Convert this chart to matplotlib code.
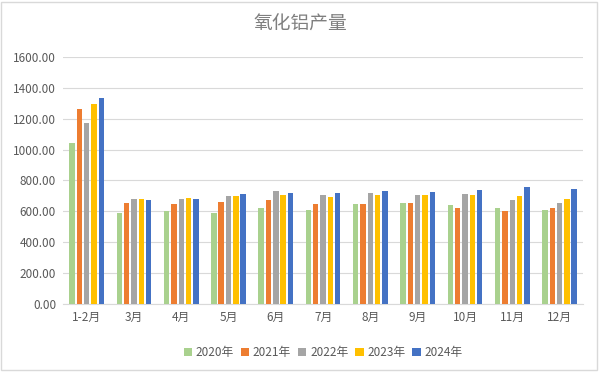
import matplotlib
matplotlib.use("Agg")
import matplotlib.pyplot as plt
import numpy as np
from matplotlib.patches import Rectangle

plt.rcParams['font.family'] = ['Noto Sans CJK SC', 'DejaVu Sans']

months = ["1-2月", "3月", "4月", "5月", "6月", "7月", "8月", "9月", "10月", "11月", "12月"]
years = ["2020年", "2021年", "2022年", "2023年", "2024年"]
y2020 = [1044, 590, 603, 590, 624, 609, 648, 654, 639, 624, 609]
y2021 = [1261, 654, 648, 663, 676, 648, 648, 654, 624, 603, 624]
y2022 = [1173, 682, 682, 697, 732, 704, 719, 704, 712, 676, 654]
y2023 = [1298, 682, 689, 697, 706, 691, 704, 704, 704, 697, 682]
y2024 = [1335, 676, 682, 712, 719, 719, 734, 725, 740, 756, 747]
series = [y2020, y2021, y2022, y2023, y2024]
colors = ["#A9D18E", "#ED7D31", "#A5A5A5", "#FFC000", "#4472C4"]

fig = plt.figure(figsize=(6, 3.74), dpi=100)
ax = fig.add_axes([0.105, 0.187, 0.867, 0.661])

x = np.arange(len(months))
w = 0.115
step = 0.155
for i, (vals, c, lab) in enumerate(zip(series, colors, years)):
    ax.bar(x + (i - 2) * step, vals, w, color=c, label=lab, zorder=3)

ax.set_xlim(-0.5, len(months) - 0.5)
ax.set_ylim(0, 1600)
ax.set_yticks(np.arange(0, 1601, 200))
ax.set_yticklabels([f"{v:.2f}" for v in np.arange(0, 1601, 200)])
ax.set_xticks(x)
ax.set_xticklabels(months)
ax.tick_params(axis="both", length=0, labelsize=8.5, colors="#595959", pad=5)
ax.grid(axis="y", color="#D9D9D9", linewidth=0.8, zorder=0)
for s in ["top", "right", "left"]:
    ax.spines[s].set_visible(False)
ax.spines["bottom"].set_color("#D9D9D9")

fig.text(0.5, 0.935, "氧化铝产量", ha="center", va="center", fontsize=13.5, color="#7F7F7F")

ax.legend(loc="center", bbox_to_anchor=(0.5, -0.195), ncol=5, frameon=False,
          fontsize=8.5, handlelength=0.7, handleheight=0.7, handletextpad=0.3,
          columnspacing=0.6, labelcolor="#595959")

fig.add_artist(Rectangle((0.002, 0.01), 0.993, 0.985, transform=fig.transFigure,
                         fill=False, edgecolor="#D9D9D9", linewidth=1))

fig.savefig("out.png", dpi=100)
